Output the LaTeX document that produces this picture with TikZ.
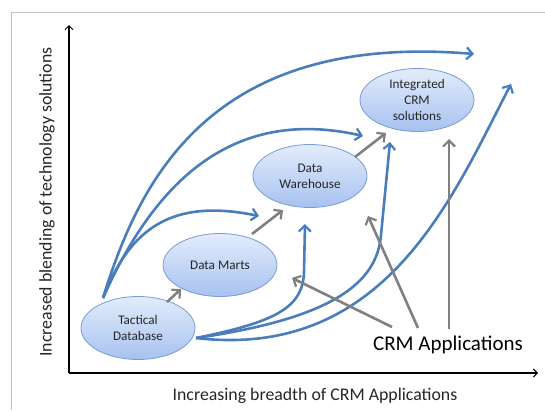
\documentclass[tikz,border=0pt]{standalone}
\usepackage{fontspec}
\setmainfont{Carlito}
\usetikzlibrary{arrows.meta,shapes.geometric}

\definecolor{flowblue}{HTML}{4A7EBB}
\definecolor{linkgray}{HTML}{808080}
\definecolor{bubbletop}{HTML}{E3ECFC}
\definecolor{bubblebot}{HTML}{A7C2EF}
\definecolor{bubbleedge}{HTML}{7A9AD6}
\definecolor{labeltext}{HTML}{262626}

\tikzset{
  stage/.style={ellipse, draw=bubbleedge, line width=0.8pt,
    top color=bubbletop, bottom color=bubblebot,
    minimum width=114pt, minimum height=63pt, inner sep=0pt,
    align=center, font=\fontsize{13.2}{16}\selectfont, text=labeltext},
  flow/.style={draw=flowblue, line width=2.6pt,
    -{Straight Barb[length=6pt, width=12pt, line width=2.2pt]}},
  link/.style={draw=linkgray, line width=2.6pt,
    -{Straight Barb[length=6pt, width=12pt, line width=2.2pt]}},
  axis/.style={draw=black, line width=1.2pt,
    -{Straight Barb[length=4pt, width=8pt, line width=1pt]}},
  axislabel/.style={font=\fontsize{17.8}{20}\selectfont, text=labeltext},
}

\begin{document}
\begin{tikzpicture}[x=1pt, y=-1pt]
  \useasboundingbox (0,0) rectangle (545,410);
  % outer frame
  \draw[gray!50, line width=0.8pt] (11,410) -- (11,12) -- (545,12);

  % axes
  \coordinate (origin) at (69,373);
  \coordinate (ytop) at (69,25);
  \coordinate (xend) at (538,373);
  \draw[axis] (origin) -- (ytop);
  \draw[axis] (origin) -- (xend);
  \node[rotate=90, axislabel] (ylab) at (47,202)
    {Increased blending of technology solutions};
  \node[axislabel] (xlab) at (315,396)
    {Increasing breadth of CRM Applications};

  % stages
  \node[stage] (tac) at (138,328) {Tactical\\Database};
  \node[stage] (marts) at (220,265) {Data Marts};
  \node[stage] (wh) at (310,176) {Data\\Warehouse};
  \node[stage] (crm) at (417,100) {Integrated\\CRM\\solutions};

  % flow endpoints
  \coordinate (tl) at (103,298);
  \coordinate (tr) at (196,338);
  \coordinate (e1) at (474,54);
  \coordinate (e2) at (363,136);
  \coordinate (e3) at (259,216);
  \coordinate (e4) at (305,224);
  \coordinate (e5) at (390,142);
  \coordinate (e6) at (511,84);

  % blue flows from the tactical database
  \draw[flow] (tl) .. controls (140,178) and (212,32) .. (e1);
  \draw[flow] (tl) .. controls (152,188) and (228,105) .. (e2);
  \draw[flow] (tl) .. controls (130,228) and (172,198) .. (e3);
  \draw[flow] (tr) .. controls (275,322) and (303,308) .. (304,272) -- (e4);
  \draw[flow] (tr) .. controls (335,318) and (377,282) .. (381,235) -- (e5);
  \draw[flow] (tr) .. controls (385,360) and (452,198) .. (e6);

  % gray steps between stages
  \coordinate (g1a) at (167,302);  \coordinate (g1b) at (181,289);
  \coordinate (g2a) at (252,234);  \coordinate (g2b) at (283,210);
  \coordinate (g3a) at (355,157);  \coordinate (g3b) at (386,133);
  \draw[link] (g1a) -- (g1b);
  \draw[link] (g2a) -- (g2b);
  \draw[link] (g3a) -- (g3b);

  % CRM applications callout
  \node[font=\fontsize{21}{24}\selectfont, text=black] (apps) at (448,345) {CRM Applications};
  \coordinate (c1) at (392,327);
  \coordinate (c2) at (418,328);
  \coordinate (c3) at (449,329);
  \coordinate (t1) at (292,278);
  \coordinate (t2) at (368,216);
  \coordinate (t3) at (449,139);
  \draw[link] (c1) -- (t1);
  \draw[link] (c2) -- (t2);
  \draw[link] (c3) -- (t3);
\end{tikzpicture}
\end{document}
